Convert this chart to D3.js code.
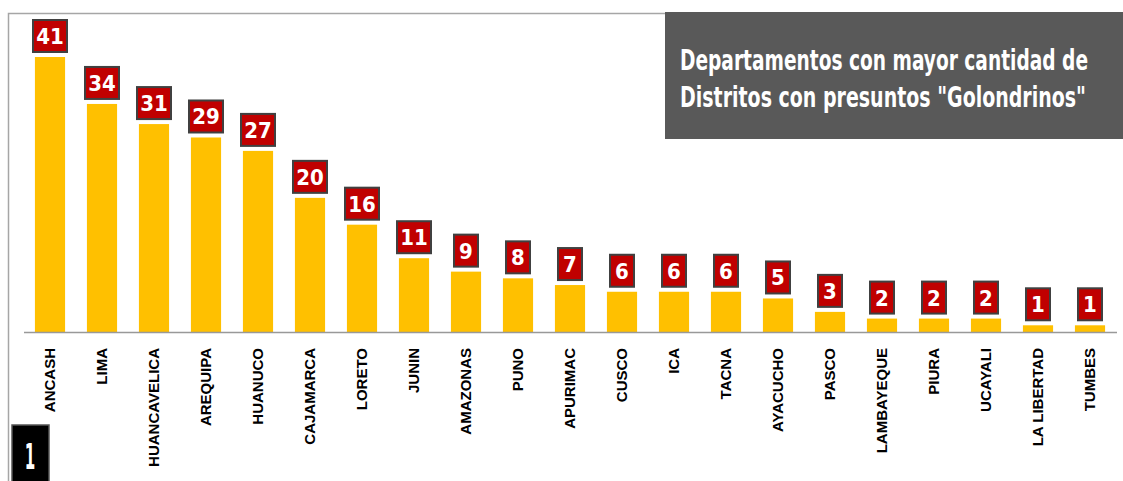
<!DOCTYPE html>
<html>
<head>
<meta charset="utf-8">
<script src="https://cdn.jsdelivr.net/npm/d3@7"></script>
<style>
  body { margin: 0; background: #fff; }
</style>
</head>
<body>
<script>
const departamentos = ['ANCASH', 'LIMA', 'HUANCAVELICA', 'AREQUIPA', 'HUANUCO', 'CAJAMARCA', 'LORETO',
    'JUNIN', 'AMAZONAS', 'PUNO', 'APURIMAC', 'CUSCO', 'ICA', 'TACNA', 'AYACUCHO', 'PASCO',
    'LAMBAYEQUE', 'PIURA', 'UCAYALI', 'LA LIBERTAD', 'TUMBES']
const distritos = [41, 34, 31, 29, 27, 20, 16, 11, 9, 8, 7, 6, 6, 6, 5, 3, 2, 2, 2, 1, 1]
const titulo = ['Departamentos con mayor cantidad de', 'Distritos con presuntos "Golondrinos"']
const pagina = '1'

const width = 1123
const height = 481
const baseY = 332

const svg = d3.select('body').append('svg')
    .attr('width', width)
    .attr('height', height)

// marco
svg.append('path')
    .attr('d', `M8.5,${height} V13.5 H666`)
    .style('fill', 'none')
    .style('stroke', '#a6a6a6')
    .style('stroke-width', 1.5)

const xScale = d3.scaleBand()
    .domain(departamentos)
    .range([24, 1116])
    .paddingInner(0.42)
    .paddingOuter(0.21)

const yScale = d3.scaleLinear()
    .domain([0, 41])
    .range([baseY, 57])

svg.selectAll('.bar')
    .data(distritos)
    .join('rect')
    .attr('class', 'bar')
    .attr('x', (d, i) => xScale(departamentos[i]))
    .attr('y', d => yScale(d))
    .attr('width', xScale.bandwidth())
    .attr('height', d => baseY - yScale(d))
    .style('fill', '#ffc000')

svg.append('line')
    .attr('x1', 24).attr('x2', 1117)
    .attr('y1', baseY + 0.5).attr('y2', baseY + 0.5)
    .style('stroke', '#999')
    .style('stroke-width', 1.5)

// etiquetas de valor
const labels = svg.selectAll('.lbl')
    .data(distritos)
    .join('g')
    .attr('class', 'lbl')
    .attr('transform', (d, i) => `translate(${xScale(departamentos[i]) + xScale.bandwidth() / 2}, ${yScale(d) - 4})`)

labels.append('rect')
    .attr('x', d => d >= 10 ? -17 : -12)
    .attr('y', -33)
    .attr('width', d => d >= 10 ? 34 : 24)
    .attr('height', 32)
    .style('fill', '#c00000')
    .style('stroke', '#404040')
    .style('stroke-width', 2)

labels.append('text')
    .attr('y', -9)
    .attr('text-anchor', 'middle')
    .style('font-family', '"DejaVu Sans Condensed", "DejaVu Sans"')
    .style('font-weight', 'bold')
    .style('font-size', '22px')
    .style('fill', '#fff')
    .text(d => d)

// eje x
svg.selectAll('.xlab')
    .data(departamentos)
    .join('text')
    .attr('class', 'xlab')
    .attr('transform', d => `translate(${xScale(d) + xScale.bandwidth() / 2 + 5}, 348) rotate(-90)`)
    .attr('text-anchor', 'end')
    .style('font-family', '"Liberation Sans", Arial, sans-serif')
    .style('font-weight', 'bold')
    .style('font-size', '15px')
    .style('fill', '#000')
    .text(d => d)

// titulo
svg.append('rect')
    .attr('x', 665).attr('y', 12)
    .attr('width', width - 665).attr('height', 127)
    .style('fill', '#595959')

svg.selectAll('.tit')
    .data(titulo)
    .join('text')
    .attr('class', 'tit')
    .attr('transform', (d, i) => `translate(680, ${70 + i * 37}) scale(1, 1.4)`)
    .attr('textLength', (d, i) => i === 0 ? 408 : 406)
    .attr('lengthAdjust', 'spacingAndGlyphs')
    .style('font-family', '"DejaVu Sans Condensed", "DejaVu Sans"')
    .style('font-weight', 'bold')
    .style('font-size', '20px')
    .style('fill', '#fff')
    .text(d => d)

// numero de pagina
svg.append('rect')
    .attr('x', 12).attr('y', 425)
    .attr('width', 37).attr('height', 60)
    .style('fill', '#000')
    .style('stroke', '#555')
    .style('stroke-width', 1.5)

svg.append('text')
    .attr('transform', 'translate(30, 469) scale(0.7, 1.5)')
    .attr('text-anchor', 'middle')
    .style('font-family', '"DejaVu Sans Condensed", "DejaVu Sans"')
    .style('font-weight', 'bold')
    .style('font-size', '24px')
    .style('fill', '#fff')
    .text(pagina)
</script>
</body>
</html>
